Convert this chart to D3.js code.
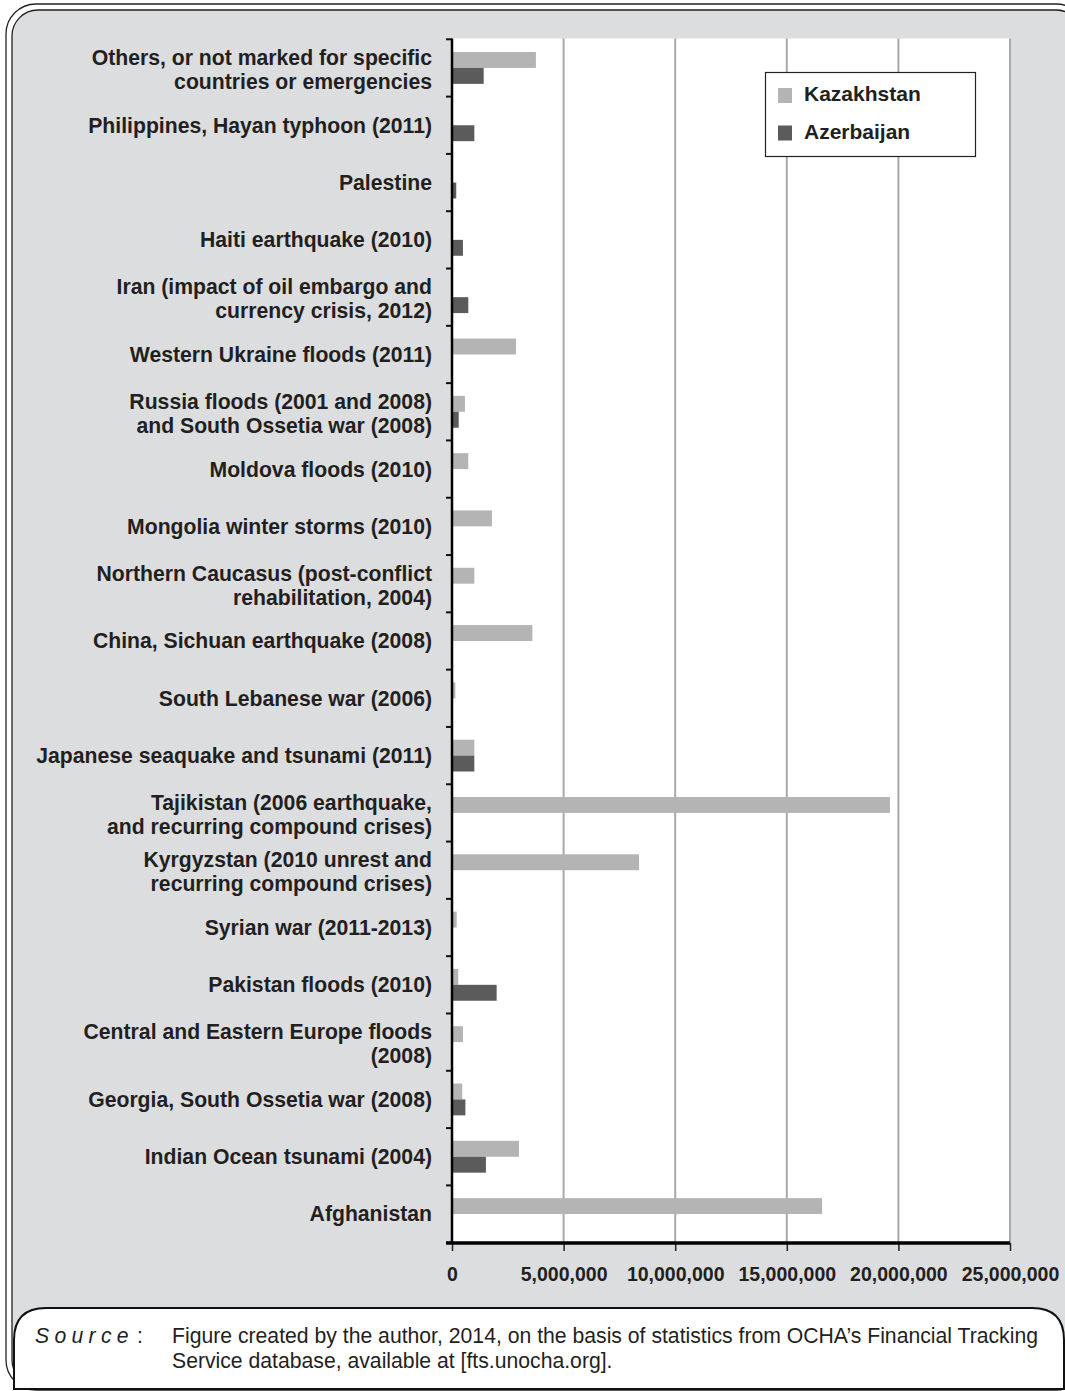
<!DOCTYPE html>
<html>
<head>
<meta charset="utf-8">
<script src="https://cdn.jsdelivr.net/npm/d3@7"></script>
<style>
  body { margin: 0; background: #ffffff; }
  svg { display: block; }
  text { font-family: "Liberation Sans", Arial, sans-serif; }
</style>
</head>
<body>
<svg id="chart" width="1065" height="1391"></svg>
<script>
// ---------- DATA ----------
const categories = [
  ["Others, or not marked for specific", "countries or emergencies"],
  ["Philippines, Hayan typhoon (2011)"],
  ["Palestine"],
  ["Haiti earthquake (2010)"],
  ["Iran (impact of oil embargo and", "currency crisis, 2012)"],
  ["Western Ukraine floods (2011)"],
  ["Russia floods (2001 and 2008)", "and South Ossetia war (2008)"],
  ["Moldova floods (2010)"],
  ["Mongolia winter storms (2010)"],
  ["Northern Caucasus (post-conflict", "rehabilitation, 2004)"],
  ["China, Sichuan earthquake (2008)"],
  ["South Lebanese war (2006)"],
  ["Japanese seaquake and tsunami (2011)"],
  ["Tajikistan (2006 earthquake,", "and recurring compound crises)"],
  ["Kyrgyzstan (2010 unrest and", "recurring compound crises)"],
  ["Syrian war (2011-2013)"],
  ["Pakistan floods (2010)"],
  ["Central and Eastern Europe floods", "(2008)"],
  ["Georgia, South Ossetia war (2008)"],
  ["Indian Ocean tsunami (2004)"],
  ["Afghanistan"]
];
const seriesNames = ["Kazakhstan", "Azerbaijan"];
const kazakhstan = [3760000, 0, 0, 0, 0, 2870000, 580000, 730000, 1790000, 1000000,
                    3600000, 150000, 1000000, 19620000, 8380000, 210000, 280000, 490000,
                    460000, 3000000, 16580000];
const azerbaijan = [1420000, 1000000, 190000, 490000, 730000, 0, 300000, 0, 0, 0,
                    0, 0, 1000000, 0, 0, 0, 2000000, 0,
                    600000, 1520000, 0];
const xTicks = [0, 5000000, 10000000, 15000000, 20000000, 25000000];
const sourceLabel = "Source";
const sourceLines = [
  "Figure created by the author, 2014, on the basis of statistics from OCHA\u2019s Financial Tracking",
  "Service database, available at [fts.unocha.org]."
];

// ---------- LAYOUT ----------
const svg = d3.select("#chart");
const colors = { Kazakhstan: "#b3b4b3", Azerbaijan: "#5b5b5b" };
const plot = { left: 452, right: 1010, top: 38.5, bottom: 1243 };
const textColor = "#231f20";

// outer frame (double rounded border)
svg.append("rect").attr("x", 6).attr("y", 4).attr("width", 1080).attr("height", 1386)
  .attr("rx", 30).attr("fill", "#ffffff").attr("stroke", "#222").attr("stroke-width", 1.3);
svg.append("rect").attr("x", 12).attr("y", 10).attr("width", 1070).attr("height", 1376)
  .attr("rx", 26).attr("fill", "#dcdddf").attr("stroke", "#222").attr("stroke-width", 1.3);

// plot background
svg.append("rect").attr("x", plot.left).attr("y", plot.top)
  .attr("width", plot.right - plot.left).attr("height", plot.bottom - plot.top)
  .attr("fill", "#ffffff");

const x = d3.scaleLinear().domain([0, 25000000]).range([plot.left, plot.right]);
const keys = categories.map((c, i) => i);
const y = d3.scaleBand().domain(keys).range([39.3, plot.bottom - 0.3]).padding(0);
const ySub = d3.scaleBand().domain(seriesNames).range([0, y.bandwidth()])
  .paddingInner(0).paddingOuter(0.8);

// gridlines
svg.append("g").selectAll("line").data(xTicks.slice(1)).join("line")
  .attr("x1", d => x(d)).attr("x2", d => x(d))
  .attr("y1", plot.top).attr("y2", plot.bottom)
  .attr("stroke", "#a9a9a9").attr("stroke-width", 2);

// bars
const rows = keys.map(i => ({ i, vals: [
  { s: "Kazakhstan", v: kazakhstan[i] },
  { s: "Azerbaijan", v: azerbaijan[i] }
]}));
const g = svg.append("g").selectAll("g").data(rows).join("g")
  .attr("transform", d => `translate(0,${y(d.i)})`);
g.selectAll("rect").data(d => d.vals.filter(e => e.v > 0)).join("rect")
  .attr("x", x(0)).attr("y", d => ySub(d.s))
  .attr("width", d => x(d.v) - x(0)).attr("height", ySub.bandwidth())
  .attr("fill", d => colors[d.s]);

// y axis
const yAxisG = svg.append("g");
yAxisG.selectAll("line.tick").data(d3.range(categories.length + 1)).join("line")
  .attr("class", "tick")
  .attr("x1", plot.left - 6).attr("x2", plot.left)
  .attr("y1", d => 39.3 + d * y.step()).attr("y2", d => 39.3 + d * y.step())
  .attr("stroke", "#111").attr("stroke-width", 2);
yAxisG.append("line").attr("x1", plot.left).attr("x2", plot.left)
  .attr("y1", plot.top).attr("y2", plot.bottom)
  .attr("stroke", "#000").attr("stroke-width", 2.5);

// category labels
const lab = svg.append("g").selectAll("text").data(rows).join("text")
  .attr("text-anchor", "end").attr("font-weight", "bold").attr("font-size", 21.2)
  .attr("fill", textColor);
lab.each(function(d) {
  const lines = categories[d.i];
  const cy = y(d.i) + y.bandwidth() / 2 + (lines.length > 1 ? 1.5 : 0);
  const lh = 24;
  const start = cy - (lines.length - 1) * lh / 2;
  d3.select(this).selectAll("tspan").data(lines).join("tspan")
    .attr("x", 432).attr("y", (l, k) => start + k * lh).attr("dy", "0.35em")
    .text(l => l);
});

// x axis
const xAxis = d3.axisBottom(x).tickValues(xTicks).tickSize(8).tickPadding(16)
  .tickFormat(d3.format(","));
const xg = svg.append("g").attr("transform", `translate(0,${plot.bottom})`).call(xAxis);
xg.select(".domain").remove();
xg.selectAll(".tick line").attr("stroke", "#222").attr("stroke-width", 1.5);
xg.selectAll(".tick text").attr("font-size", 19.5).attr("font-weight", "bold")
  .attr("fill", textColor).attr("font-family", "Liberation Sans, Arial, sans-serif");
svg.append("line").attr("x1", plot.left - 6).attr("x2", plot.right)
  .attr("y1", plot.bottom).attr("y2", plot.bottom)
  .attr("stroke", "#000").attr("stroke-width", 3.5);

// legend
const lg = svg.append("g");
lg.append("rect").attr("x", 765.5).attr("y", 72.5).attr("width", 210).attr("height", 84)
  .attr("fill", "#fff").attr("stroke", "#222").attr("stroke-width", 1.2);
const li = lg.selectAll("g").data(seriesNames).join("g")
  .attr("transform", (d, i) => `translate(778,${88 + i * 37.5})`);
li.append("rect").attr("width", 14).attr("height", 15).attr("fill", d => colors[d]);
li.append("text").attr("x", 26).attr("y", 13).attr("font-size", 21)
  .attr("font-weight", "bold").attr("fill", textColor).text(d => d);

// source box
svg.append("path")
  .attr("d", "M14,1389 L14,1340 Q14,1308 46,1308 L1032,1308 Q1064,1308 1064,1340 L1064,1389 Z")
  .attr("fill", "#fff").attr("stroke", "#111").attr("stroke-width", 2);
svg.append("text").attr("x", 35).attr("y", 1343).attr("font-size", 21.2)
  .attr("font-style", "italic").attr("letter-spacing", 5.3).attr("fill", textColor)
  .text(sourceLabel);
svg.append("text").attr("x", 137).attr("y", 1343).attr("font-size", 21.2)
  .attr("fill", textColor).text(":");
svg.append("text").attr("font-size", 21.2).attr("fill", textColor)
  .selectAll("tspan").data(sourceLines).join("tspan")
  .attr("x", 172).attr("y", (d, i) => 1343 + i * 25).text(d => d);
</script>
</body>
</html>
